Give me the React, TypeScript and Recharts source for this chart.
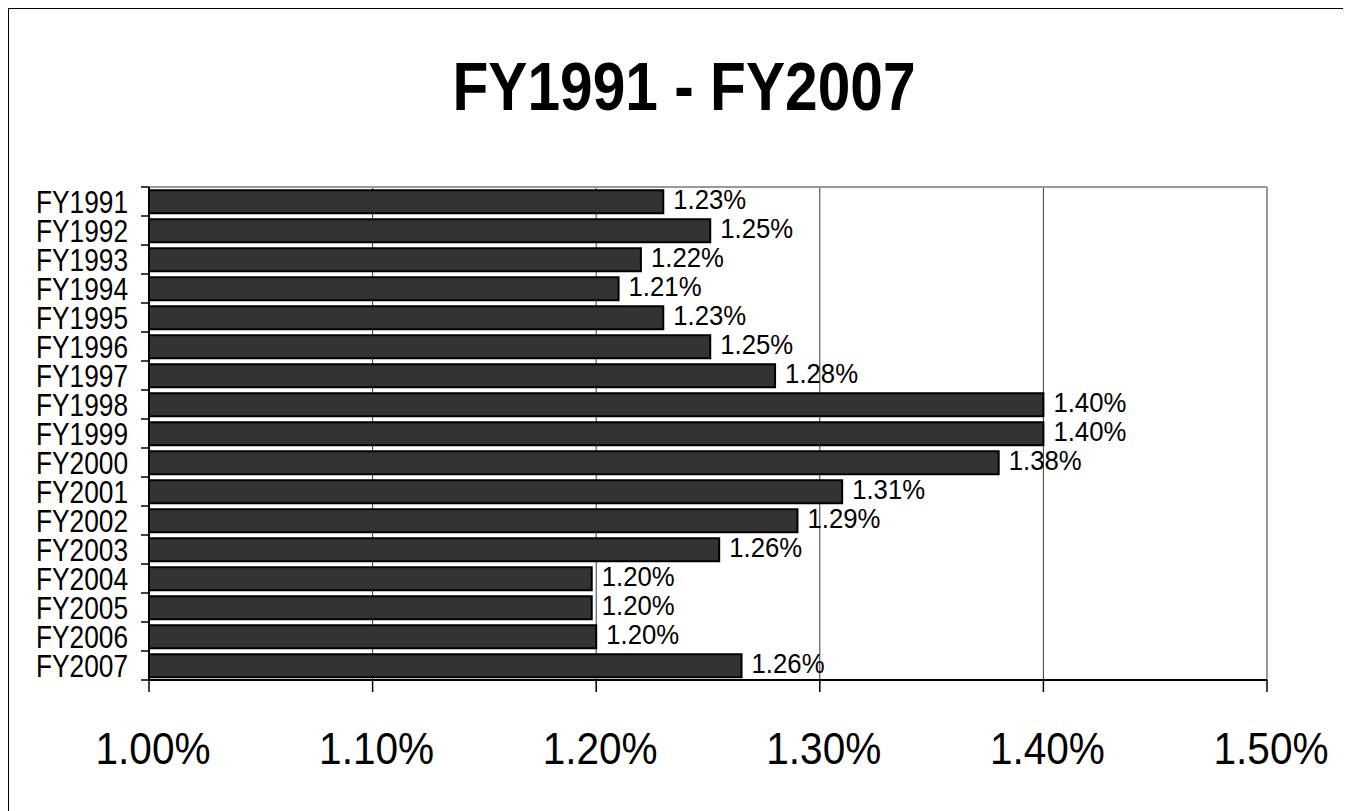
import React from "react";
import {
  BarChart,
  Bar,
  XAxis,
  YAxis,
  CartesianGrid,
  ReferenceLine,
  LabelList,
} from "recharts";

const years = [
  "FY1991", "FY1992", "FY1993", "FY1994", "FY1995", "FY1996", "FY1997", "FY1998", "FY1999",
  "FY2000", "FY2001", "FY2002", "FY2003", "FY2004", "FY2005", "FY2006", "FY2007",
];
const shares = [
  1.23, 1.251, 1.22, 1.21, 1.23, 1.251, 1.28, 1.4, 1.4,
  1.38, 1.31, 1.29, 1.255, 1.198, 1.198, 1.2, 1.265,
];
const shareLabels = [
  "1.23%", "1.25%", "1.22%", "1.21%", "1.23%", "1.25%", "1.28%", "1.40%", "1.40%",
  "1.38%", "1.31%", "1.29%", "1.26%", "1.20%", "1.20%", "1.20%", "1.26%",
];
const xTicks = [1.0, 1.1, 1.2, 1.3, 1.4, 1.5];
const xTickLabels = ["1.00%", "1.10%", "1.20%", "1.30%", "1.40%", "1.50%"];

const data = years.map((year, i) => ({ year, share: shares[i], label: shareLabels[i] }));

const FONT = "'Liberation Sans', Arial, Helvetica, sans-serif";
const PLOT_H = 493;
const bandHalf = PLOT_H / years.length / 2;

// Excel-ish category ticks: marks sit on the band edges, not the centres
function YTick(props: any) {
  const { x, y, payload, index } = props;
  return (
    <g>
      <line x1={x + 13} x2={x + 21} y1={y - bandHalf} y2={y - bandHalf} stroke="#000" strokeWidth={1.5} />
      {index === years.length - 1 && (
        <line x1={x + 13} x2={x + 21} y1={y + bandHalf} y2={y + bandHalf} stroke="#000" strokeWidth={1.5} />
      )}
      <text
        x={x}
        y={y + 11}
        textAnchor="end"
        fontFamily={FONT}
        fontSize={31}
        fill="#000"
        textLength={92}
        lengthAdjust="spacingAndGlyphs"
      >
        {payload.value}
      </text>
    </g>
  );
}

function XTick(props: any) {
  const { x, y, index } = props;
  return (
    <text
      x={x + 4}
      y={y + 72}
      textAnchor="middle"
      fontFamily={FONT}
      fontSize={44}
      fill="#000"
      textLength={115}
      lengthAdjust="spacingAndGlyphs"
    >
      {xTickLabels[index]}
    </text>
  );
}

function ValueLabel(props: any) {
  const { x, y, width, height, index } = props;
  return (
    <text
      x={x + width + 10}
      y={y + height / 2 + 7}
      fontFamily={FONT}
      fontSize={28}
      fill="#000"
      textLength={73}
      lengthAdjust="spacingAndGlyphs"
    >
      {shareLabels[index]}
    </text>
  );
}

export default function App() {
  return (
    <div
      style={{
        position: "relative",
        width: 1343,
        height: 806,
        boxSizing: "border-box",
        border: "1px solid #000",
        background: "#fff",
      }}
    >
      <svg width={1341} height={130} style={{ position: "absolute", left: 0, top: 0 }}>
        <text
          x={675}
          y={101}
          textAnchor="middle"
          fontFamily={FONT}
          fontWeight="bold"
          fontSize={68}
          fill="#000"
          textLength={463}
          lengthAdjust="spacingAndGlyphs"
        >
          FY1991 - FY2007
        </text>
      </svg>
      <BarChart
        width={1341}
        height={796}
        data={data}
        layout="vertical"
        margin={{ top: 178, right: 83, bottom: 65, left: 0 }}
        barCategoryGap="11%"
      >
        <CartesianGrid horizontal={false} stroke="#3a3a3a" strokeWidth={1} />
        <XAxis
          type="number"
          domain={[1.0, 1.5]}
          ticks={xTicks}
          allowDataOverflow
          height={60}
          tickSize={12}
          tickMargin={0}
          axisLine={{ stroke: "#000", strokeWidth: 2 }}
          tickLine={{ stroke: "#000", strokeWidth: 1.5 }}
          tick={<XTick />}
          interval={0}
        />
        <YAxis
          type="category"
          dataKey="year"
          width={140}
          tickSize={8}
          tickMargin={13}
          tickLine={false}
          axisLine={{ stroke: "#000", strokeWidth: 2 }}
          tick={<YTick />}
          interval={0}
        />
        <ReferenceLine x={1.5} stroke="#999" strokeWidth={2} />
        <ReferenceLine y="FY1991" position="start" stroke="#999" strokeWidth={2} />
        <Bar dataKey="share" fill="#333333" stroke="#000" strokeWidth={2} isAnimationActive={false}>
          <LabelList dataKey="label" content={<ValueLabel />} />
        </Bar>
      </BarChart>
    </div>
  );
}
